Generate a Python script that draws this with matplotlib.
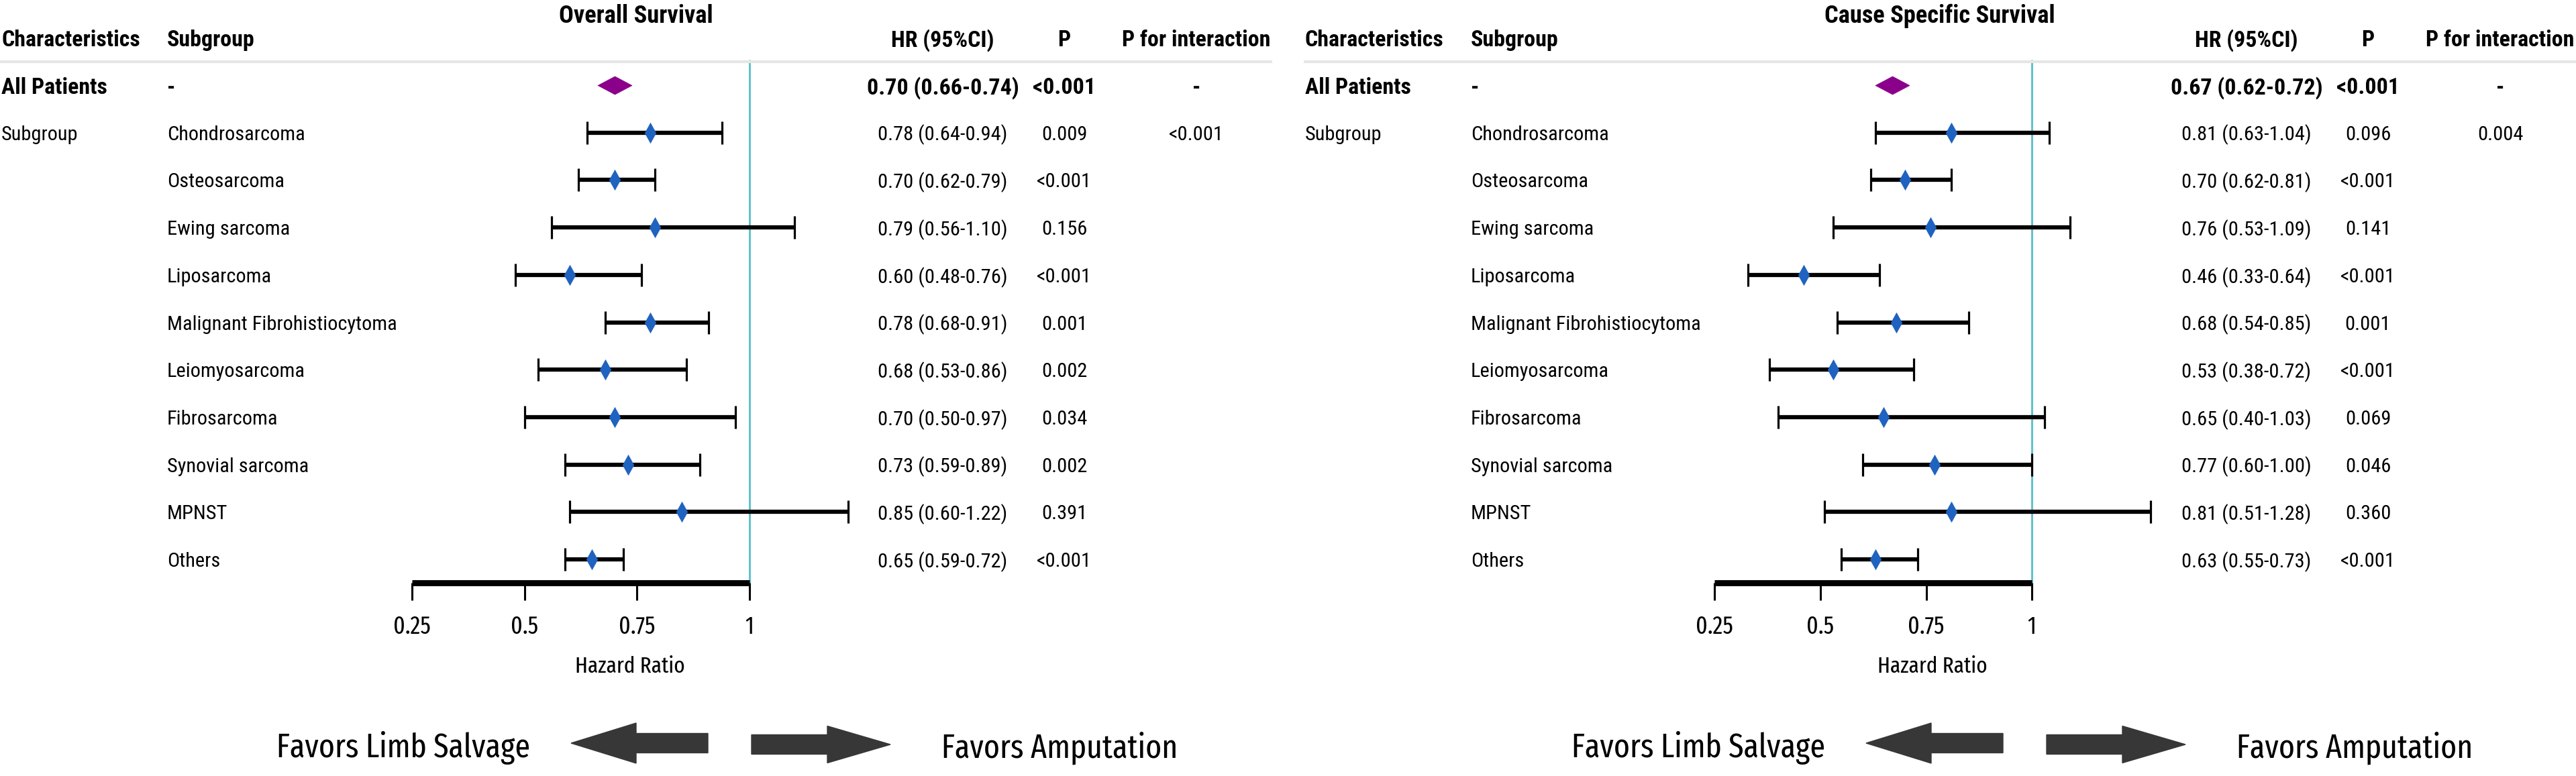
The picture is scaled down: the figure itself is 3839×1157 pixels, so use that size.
import matplotlib
matplotlib.use("Agg")
import matplotlib.pyplot as plt
from matplotlib import transforms
from matplotlib.font_manager import FontProperties
from matplotlib.patches import FancyArrow
from matplotlib.path import Path
from matplotlib.textpath import TextPath
import numpy as np

# ---------------- data ----------------
subgroups = ["Chondrosarcoma", "Osteosarcoma", "Ewing sarcoma", "Liposarcoma",
             "Malignant Fibrohistiocytoma", "Leiomyosarcoma", "Fibrosarcoma",
             "Synovial sarcoma", "MPNST", "Others"]

os_title = "Overall Survival"
os_all = [0.70, 0.66, 0.74]
os_all_p = "<0.001"
os_hr = [0.78, 0.70, 0.79, 0.60, 0.78, 0.68, 0.70, 0.73, 0.85, 0.65]
os_lo = [0.64, 0.62, 0.56, 0.48, 0.68, 0.53, 0.50, 0.59, 0.60, 0.59]
os_hi = [0.94, 0.79, 1.10, 0.76, 0.91, 0.86, 0.97, 0.89, 1.22, 0.72]
os_p = ["0.009", "<0.001", "0.156", "<0.001", "0.001", "0.002", "0.034",
        "0.002", "0.391", "<0.001"]
os_pint = "<0.001"

css_title = "Cause Specific Survival"
css_all = [0.67, 0.62, 0.72]
css_all_p = "<0.001"
css_hr = [0.81, 0.70, 0.76, 0.46, 0.68, 0.53, 0.65, 0.77, 0.81, 0.63]
css_lo = [0.63, 0.62, 0.53, 0.33, 0.54, 0.38, 0.40, 0.60, 0.51, 0.55]
css_hi = [1.04, 0.81, 1.09, 0.64, 0.85, 0.72, 1.03, 1.00, 1.28, 0.73]
css_p = ["0.096", "<0.001", "0.141", "<0.001", "0.001", "<0.001", "0.069",
         "0.046", "0.360", "<0.001"]
css_pint = "0.004"

x_ticks = [0.25, 0.5, 0.75, 1.0]
x_tick_labels = ["0.25", "0.5", "0.75", "1"]

col_headers = ["Characteristics", "Subgroup", "HR (95%CI)", "P", "P for interaction"]
all_label = "All Patients"
sub_label = "Subgroup"
x_label = "Hazard Ratio"
favor_left = "Favors Limb Salvage"
favor_right = "Favors Amputation"

# ---------------- fonts ----------------
W, H = 3839, 1157
DPI = 100
MAIN = ["Roboto Condensed", "Archivo Narrow", "PT Sans Narrow",
        "Liberation Sans Narrow", "Liberation Sans", "DejaVu Sans"]
NARROW = ["Fira Sans Extra Condensed", "Roboto Condensed", "Archivo Narrow",
          "PT Sans Narrow", "Liberation Sans", "DejaVu Sans"]
plt.rcParams["font.family"] = MAIN


def fit_size(pairs, family, weight, target_cap, slack=1.0):
    """Font size (pt) whose rendered widths best match the reference widths,
    limited by the reference cap height."""
    fp = FontProperties(family=family, weight=weight)
    cap = TextPath((0, 0), "H", size=100, prop=fp).get_extents().height
    sizes = []
    for text, target_w in pairs:
        w = TextPath((0, 0), text, size=100, prop=fp).get_extents().width
        sizes.append(100.0 * target_w / (w * DPI / 72.0))
    s_w = float(np.exp(np.mean(np.log(sizes)))) * slack
    s_h = 100.0 * target_cap / (cap * DPI / 72.0)
    return min(s_w, s_h)


FS = fit_size([("Chondrosarcoma", 197), ("0.78 (0.64-0.94)", 185), ("0.009", 60)],
              MAIN, "normal", 28, 1.04)
FS_B = fit_size([("Characteristics", 205), ("HR (95%CI)", 152), ("P for interaction", 217),
                 ("0.70 (0.66-0.74)", 203)], MAIN, "bold", 28, 1.02)
FS_TITLE = fit_size([("Overall Survival", 217), ("Cause Specific Survival", 326)],
                    MAIN, "bold", 31, 1.04)
FS_TICK = fit_size([("0.25", 49), ("0.75", 49)], NARROW, "normal", 28, 1.05)
FS_XL = fit_size([(x_label, 152)], NARROW, "normal", 30, 1.05)
FS_FAV = fit_size([(favor_left, 353), (favor_right, 330)], NARROW, "normal", 55, 1.05)

BLUE = "#1f62bf"
PURPLE = "#8b008b"
CYAN = "#62c3cc"
GREY = "#e6e6e6"
ARROW = "#373737"

fig = plt.figure(figsize=(W / DPI, H / DPI), dpi=DPI)
fig.patch.set_facecolor("white")

ROW0, ROWH = 127.0, 70.7


def yrow(px):
    return (px - ROW0) / ROWH


tall_diamond = Path([(0, 1), (0.55, 0), (0, -1), (-0.55, 0), (0, 1)],
                    [Path.MOVETO, Path.LINETO, Path.LINETO, Path.LINETO, Path.CLOSEPOLY])
wide_diamond = Path([(1, 0), (0, 0.53), (-1, 0), (0, -0.53), (1, 0)],
                    [Path.MOVETO, Path.LINETO, Path.LINETO, Path.LINETO, Path.CLOSEPOLY])

panels = [
    dict(title=os_title, all=os_all, all_p=os_all_p, hr=os_hr, lo=os_lo, hi=os_hi,
         p=os_p, pint=os_pint, tx=0, axl=614, bx=0),
    dict(title=css_title, all=css_all, all_p=css_all_p, hr=css_hr, lo=css_lo, hi=css_hi,
         p=css_p, pint=css_pint, tx=1943, axl=2555, bx=1930),
]

n = len(subgroups)
rows = np.arange(1, n + 1)
axis_row = n + 0.5

for pn in panels:
    ax = fig.add_axes([pn["axl"] / W, 0, 650 / W, 1])
    ax.set_facecolor("none")
    ax.set_xlim(0.25, max(pn["hi"]))
    ax.set_ylim(yrow(H), yrow(0))
    for s in ["top", "left", "right"]:
        ax.spines[s].set_visible(False)
    ax.yaxis.set_visible(False)
    sp = ax.spines["bottom"]
    sp.set_position(("data", axis_row))
    sp.set_bounds(0.25, 1.0)
    sp.set_linewidth(6.5)
    sp.set_capstyle("butt")
    ax.set_xticks(x_ticks)
    ax.set_xticklabels(x_tick_labels, fontsize=FS_TICK, family=NARROW)
    ax.tick_params(axis="x", direction="out", length=19, width=2.2, pad=15, colors="black")
    ax.set_xlabel(x_label, fontsize=FS_XL, family=NARROW)
    ax.xaxis.label.set_va("center")
    ax.xaxis.set_label_coords(0.5, 1 - 994 / H)

    blend = transforms.blended_transform_factory(fig.transFigure, ax.transData)
    tx = pn["tx"]

    def T(px, row, s, ha="left", bold=False, size=None):
        if size is None:
            size = FS_B if bold else FS
        ax.text((tx + px) / W, row, s, transform=blend, ha=ha, va="center_baseline",
                fontsize=size, fontweight="bold" if bold else "normal", clip_on=False)

    # title and headers
    T(948, -1.52, pn["title"], ha="center", bold=True, size=FS_TITLE)
    T(2, -1, col_headers[0], bold=True)
    T(249, -1, col_headers[1], bold=True)
    T(1405, -1, col_headers[2], ha="center", bold=True)
    T(1586, -1, col_headers[3], ha="center", bold=True)
    T(1783, -1, col_headers[4], ha="center", bold=True)

    # header separator
    ax.plot([tx / W, (tx + 1896) / W], [-0.5, -0.5], transform=blend, color=GREY,
            lw=3, clip_on=False, solid_capstyle="butt")

    # all patients row
    a_hr, a_lo, a_hi = pn["all"]
    T(2, 0, all_label, bold=True)
    T(249, 0, "-", bold=True)
    T(1405, 0, f"{a_hr:.2f} ({a_lo:.2f}-{a_hi:.2f})", ha="center", bold=True)
    T(1586, 0, pn["all_p"], ha="center", bold=True)
    T(1783, 0, "-", ha="center", bold=True)

    # subgroup rows
    T(2, 1, sub_label)
    for r, name, h, lo, hi, p in zip(rows, subgroups, pn["hr"], pn["lo"], pn["hi"], pn["p"]):
        T(249, r, name)
        T(1405, r, f"{h:.2f} ({lo:.2f}-{hi:.2f})", ha="center")
        T(1586, r, p, ha="center")
    T(1783, 1, pn["pint"], ha="center")

    # reference line at HR = 1
    ax.vlines(1.0, yrow(89), axis_row, color=CYAN, lw=2.2, zorder=1)

    hr = np.array(pn["hr"])
    lo = np.array(pn["lo"])
    hi = np.array(pn["hi"])
    ax.errorbar(hr, rows, xerr=[hr - lo, hi - hr], fmt="none", ecolor="black",
                elinewidth=4.5, capsize=12.5, capthick=2.3, zorder=2, clip_on=False)
    ax.plot(hr, rows, ls="none", marker=tall_diamond, ms=21.6, color=BLUE,
            mec=BLUE, mew=0.5, zorder=3, clip_on=False)
    ax.plot([a_hr], [0], ls="none", marker=wide_diamond, ms=36.7, color=PURPLE,
            mec=PURPLE, mew=0.5, zorder=3, clip_on=False)

    # favors annotation
    bx = pn["bx"]
    fig.text((bx + 790) / W, 1 - 1110 / H, favor_left, ha="right", va="center_baseline",
             fontsize=FS_FAV, family=NARROW)
    fig.text((bx + 1403) / W, 1 - 1110 / H, favor_right, ha="left", va="center_baseline",
             fontsize=FS_FAV, family=NARROW)
    fig.add_artist(FancyArrow((bx + 1055) / DPI, (H - 1108) / DPI, -2.04, 0,
                              width=0.29, head_width=0.60, head_length=0.97,
                              length_includes_head=True, color=ARROW,
                              transform=fig.dpi_scale_trans))
    fig.add_artist(FancyArrow((bx + 1120) / DPI, (H - 1110) / DPI, 2.07, 0,
                              width=0.29, head_width=0.55, head_length=0.94,
                              length_includes_head=True, color=ARROW,
                              transform=fig.dpi_scale_trans))

fig.savefig("out.png", dpi=DPI, facecolor="white")
